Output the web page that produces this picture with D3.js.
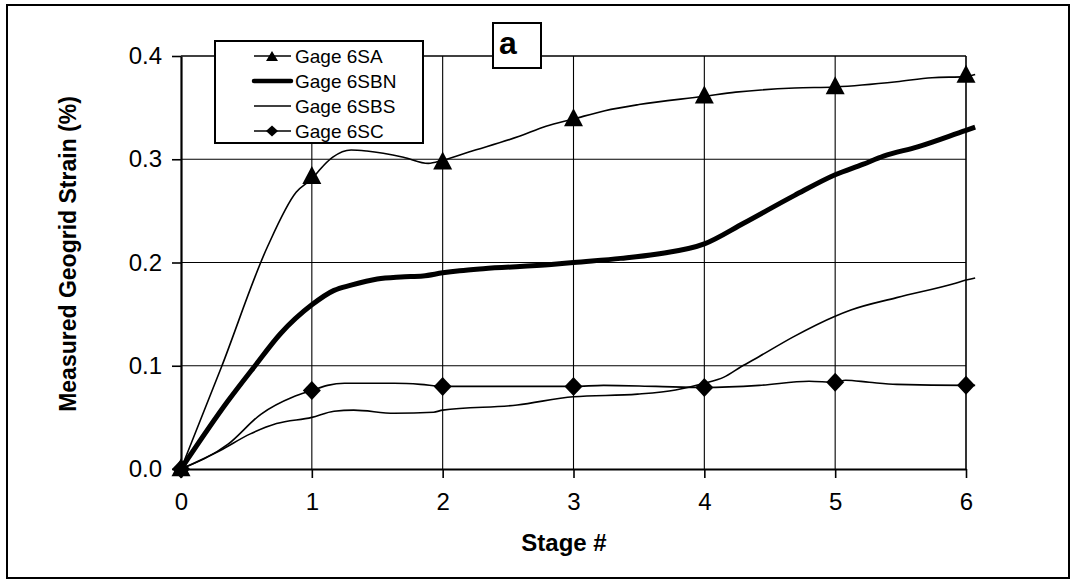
<!DOCTYPE html>
<html>
<head>
<meta charset="utf-8">
<script src="https://cdn.jsdelivr.net/npm/d3@7"></script>
<style>
  body { margin: 0; background: #fff; }
  svg { font-family: "Liberation Sans", Arial, sans-serif; }
</style>
</head>
<body>
<div id="chart"></div>
<script>
const width = 1075;
const height = 581;
const margin = {top: 56, right: 108, bottom: 112, left: 181};

// stage ticks and strain ticks
const stageTicks = [0, 1, 2, 3, 4, 5, 6];
const strainTicks = [0, 0.1, 0.2, 0.3, 0.4];

// Gage 6SA (thin line, triangles)
const saStage  = [0, 0.31, 0.66, 0.88, 1.0, 1.09, 1.16, 1.30, 1.42, 1.70, 1.89, 2.0, 2.2, 2.58, 2.79, 3.0, 3.24, 3.5, 4.0, 4.24, 4.69, 5.0, 5.47, 5.74, 6.0, 6.07];
const saStrain = [0, 0.099, 0.215, 0.268, 0.281, 0.294, 0.302, 0.309, 0.308, 0.302, 0.296, 0.299, 0.307, 0.322, 0.332, 0.339, 0.347, 0.353, 0.361, 0.365, 0.369, 0.370, 0.375, 0.379, 0.380, 0.382];
const saMarks  = [0, 0.283, 0.297, 0.339, 0.361, 0.370, 0.381];

// Gage 6SBN (thick line)
const sbnStage  = [0, 0.36, 0.56, 0.76, 1.0, 1.17, 1.30, 1.50, 1.68, 1.85, 2.0, 2.13, 2.31, 2.83, 3.0, 3.36, 3.63, 4.0, 4.3, 4.69, 5.0, 5.21, 5.37, 5.63, 6.0, 6.07];
const sbnStrain = [0, 0.066, 0.099, 0.131, 0.159, 0.173, 0.178, 0.184, 0.186, 0.187, 0.190, 0.192, 0.194, 0.198, 0.200, 0.204, 0.208, 0.218, 0.238, 0.265, 0.285, 0.295, 0.303, 0.312, 0.328, 0.331];

// Gage 6SBS (thin line)
const sbsStage  = [0, 0.3, 0.53, 0.73, 1.0, 1.17, 1.32, 1.63, 1.93, 2.0, 2.57, 3.0, 3.49, 3.78, 4.0, 4.15, 4.28, 4.42, 4.68, 5.0, 5.12, 5.47, 5.92, 6.0, 6.07];
const sbsStrain = [0, 0.018, 0.034, 0.044, 0.050, 0.056, 0.057, 0.054, 0.055, 0.057, 0.062, 0.070, 0.0725, 0.0765, 0.083, 0.089, 0.099, 0.109, 0.128, 0.148, 0.154, 0.166, 0.180, 0.183, 0.185];

// Gage 6SC (thin line, diamonds)
const scStage  = [0, 0.36, 0.61, 0.86, 1.0, 1.12, 1.25, 1.63, 1.83, 2.0, 2.5, 3.0, 3.23, 3.63, 4.0, 4.42, 4.8, 5.0, 5.08, 5.26, 5.47, 6.0, 6.07];
const scStrain = [0, 0.024, 0.053, 0.070, 0.076, 0.081, 0.083, 0.083, 0.082, 0.080, 0.080, 0.080, 0.081, 0.080, 0.079, 0.081, 0.085, 0.084, 0.086, 0.084, 0.082, 0.081, 0.081];
const scMarks  = [0, 0.076, 0.080, 0.080, 0.079, 0.084, 0.081];

const legendNames = ['Gage 6SA', 'Gage 6SBN', 'Gage 6SBS', 'Gage 6SC'];

const zip = (xs, ys) => xs.map((x, i) => ({stage: x, strain: ys[i]}));

const x = d3.scaleLinear()
  .domain([0, 6])
  .range([margin.left, width - margin.right - 1]);

const y = d3.scaleLinear()
  .domain([0, 0.4])
  .range([height - margin.bottom, margin.top]);

const svg = d3.select('#chart').append('svg')
  .attr('width', width)
  .attr('height', height);

// outer frame
svg.append('rect')
  .attr('x', 7).attr('y', 5)
  .attr('width', 1062).attr('height', 573)
  .attr('fill', 'none')
  .attr('stroke', '#000')
  .attr('stroke-width', 2);

// grid
svg.append('g')
  .selectAll('line')
  .data(strainTicks.slice(1))
  .join('line')
  .attr('x1', x(0)).attr('x2', x(6))
  .attr('y1', d => y(d)).attr('y2', d => y(d))
  .attr('stroke', '#000')
  .attr('stroke-width', d => d === 0.4 ? 1.6 : 1.1);

svg.append('g')
  .selectAll('line')
  .data(stageTicks.slice(1))
  .join('line')
  .attr('x1', d => x(d)).attr('x2', d => x(d))
  .attr('y1', y(0)).attr('y2', y(0.4))
  .attr('stroke', '#000')
  .attr('stroke-width', d => d === 6 ? 1.6 : 1.1);

const xAxis = g => g
  .attr('transform', `translate(0,${y(0)})`)
  .call(d3.axisBottom(x).tickValues(stageTicks).tickFormat(d3.format('d')).tickSize(9).tickSizeOuter(0).tickPadding(15))
  .call(g => g.select('.domain').attr('stroke-width', 2.2))
  .call(g => g.selectAll('.tick line').attr('stroke-width', 1.6))
  .call(g => g.selectAll('text').attr('font-size', 24).attr('font-family', null));

const yAxis = g => g
  .attr('transform', `translate(${x(0)},0)`)
  .call(d3.axisLeft(y).tickValues(strainTicks).tickFormat(d3.format('.1f')).tickSize(9).tickSizeOuter(0).tickPadding(10))
  .call(g => g.select('.domain').attr('stroke-width', 2.2))
  .call(g => g.selectAll('.tick line').attr('stroke-width', 1.6))
  .call(g => g.selectAll('text').attr('font-size', 24).attr('font-family', null));

svg.append('g').call(xAxis);
svg.append('g').call(yAxis);

// axis titles
svg.append('text')
  .attr('x', 564)
  .attr('y', 551)
  .attr('text-anchor', 'middle')
  .attr('font-size', 24)
  .attr('font-weight', 'bold')
  .text('Stage #');

svg.append('text')
  .attr('transform', 'translate(76,254) rotate(-90)')
  .attr('text-anchor', 'middle')
  .attr('font-size', 23)
  .attr('font-weight', 'bold')
  .text('Measured Geogrid Strain (%)');

// lines
const line = d3.line()
  .curve(d3.curveMonotoneX)
  .x(d => x(d.stage))
  .y(d => y(d.strain));

const series = [
  {data: zip(saStage, saStrain), w: 1.6},
  {data: zip(sbnStage, sbnStrain), w: 5},
  {data: zip(sbsStage, sbsStrain), w: 1.6},
  {data: zip(scStage, scStrain), w: 1.6}
];

svg.append('g')
  .selectAll('path')
  .data(series)
  .join('path')
  .attr('fill', 'none')
  .attr('stroke', '#000')
  .attr('stroke-width', d => d.w)
  .attr('stroke-linejoin', 'round')
  .attr('d', d => line(d.data));

// markers
const triangle = (w, h) => `M0,${-h * 0.6}L${w / 2},${h * 0.4}L${-w / 2},${h * 0.4}Z`;
const diamond = (w, h) => `M0,${-h / 2}L${w / 2},0L0,${h / 2}L${-w / 2},0Z`;

svg.append('g')
  .selectAll('path')
  .data(saMarks)
  .join('path')
  .attr('transform', (d, i) => `translate(${x(stageTicks[i])},${y(d)})`)
  .attr('d', triangle(19, 18));

svg.append('g')
  .selectAll('path')
  .data(scMarks)
  .join('path')
  .attr('transform', (d, i) => `translate(${x(stageTicks[i])},${y(d)})`)
  .attr('d', diamond(18, 19));

// legend
const legend = svg.append('g');

legend.append('rect')
  .attr('x', 215).attr('y', 41)
  .attr('width', 208).attr('height', 102)
  .attr('fill', '#fff')
  .attr('stroke', '#000')
  .attr('stroke-width', 2);

const rowY = [56, 81, 106, 131];

legend.selectAll('line')
  .data(legendNames)
  .join('line')
  .attr('x1', 254).attr('x2', 291)
  .attr('y1', (d, i) => rowY[i]).attr('y2', (d, i) => rowY[i])
  .attr('stroke', '#000')
  .attr('stroke-linecap', (d, i) => i === 1 ? 'round' : 'butt')
  .attr('stroke-width', (d, i) => i === 1 ? 4.5 : 1.6);

legend.append('path')
  .attr('transform', `translate(272,${rowY[0] + 1})`)
  .attr('d', triangle(12, 10));

legend.append('path')
  .attr('transform', `translate(272,${rowY[3]})`)
  .attr('d', diamond(12, 11));

legend.selectAll('text')
  .data(legendNames)
  .join('text')
  .attr('x', 295)
  .attr('y', (d, i) => rowY[i] + 7)
  .attr('font-size', 19)
  .text(d => d);

// panel label
svg.append('rect')
  .attr('x', 493).attr('y', 23)
  .attr('width', 48).attr('height', 45)
  .attr('fill', '#fff')
  .attr('stroke', '#000')
  .attr('stroke-width', 2);

svg.append('text')
  .attr('x', 499)
  .attr('y', 54)
  .attr('font-size', 32)
  .attr('font-weight', 'bold')
  .text('a');
</script>
</body>
</html>
